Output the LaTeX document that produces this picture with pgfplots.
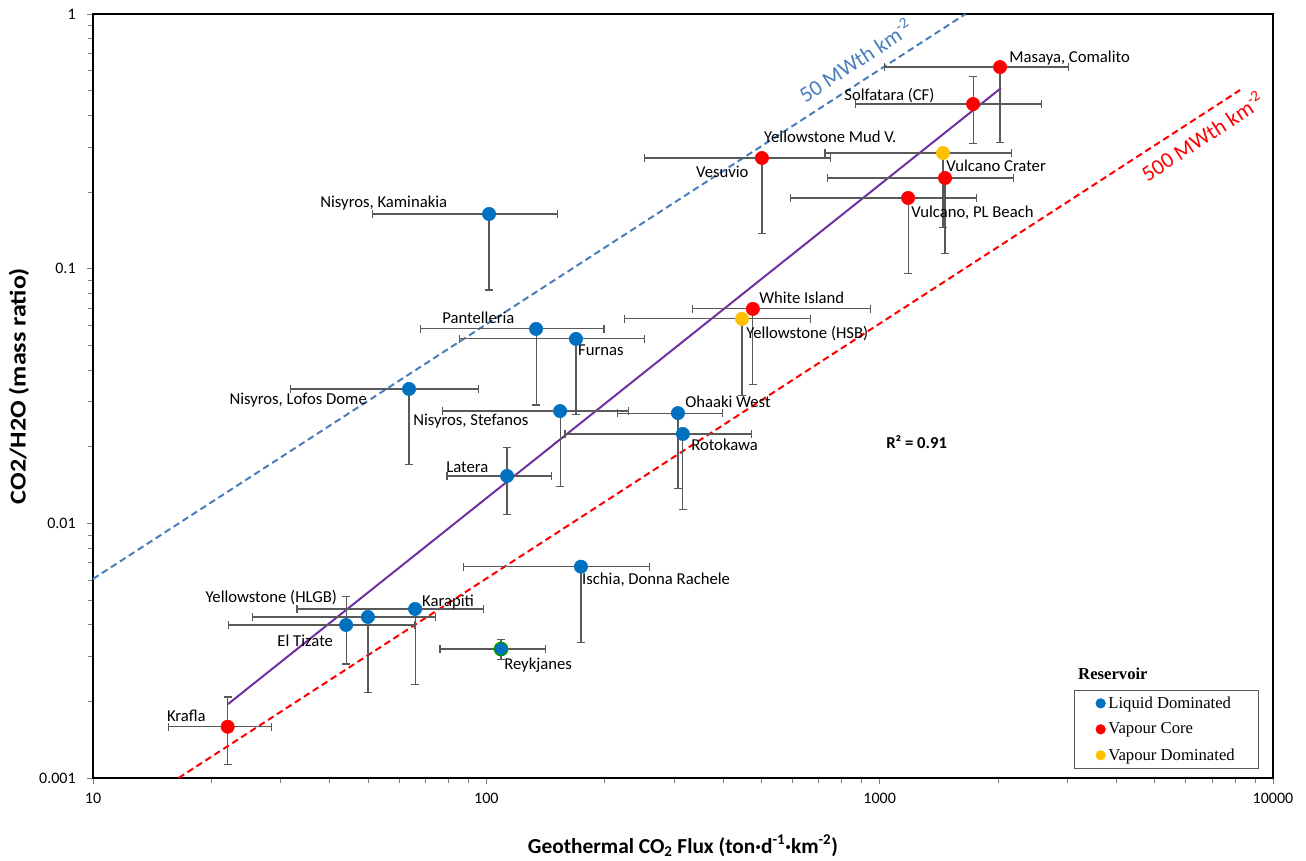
\documentclass[border=0pt]{standalone}
\usepackage{graphicx}
\usepackage{pgfplots}
\pgfplotsset{compat=1.18}
\usepackage{pgfplotstable}
\usetikzlibrary{arrows.meta}
\usepackage{fontspec}
\setmainfont{Carlito}
\newfontfamily\legfont{Liberation Serif}
\definecolor{liq}{HTML}{0070C0}
\definecolor{vcore}{HTML}{FF0000}
\definecolor{vdom}{HTML}{FFC000}
\definecolor{fitp}{HTML}{7030A0}
\definecolor{mwblue}{HTML}{4A7EBB}
\definecolor{ebar}{HTML}{595959}

% x y x+err x-err y+err y-err
\pgfplotstableread{
x y exp exm eyp eym
101.6 0.164 50.5 50.5 0 0.082
133.8 0.058 66 66 0 0.029
169 0.053 84 84 0 0.0264
63.6 0.0337 32 32 0 0.0167
154 0.0276 77 77 0 0.0137
307 0.0271 92 92 0 0.0135
316 0.02244 158 158 0 0.0112
112.9 0.01535 33.7 33.7 0.0046 0.0046
174 0.00676 87 87 0 0.00336
65.9 0.00461 33 33 0 0.00229
50.0 0.00429 24.7 24.7 0 0.00213
44 0.00399 22 22 0.0012 0.0012
}\liquid
\pgfplotstableread{
x y exp exm eyp eym
109 0.00321 33 33 0.0003 0.0003
}\reyk
\pgfplotstableread{
x y exp exm eyp eym
2023 0.619 1000 1000 0 0.308
1728 0.443 865 865 0.13 0.134
1466 0.227 730 730 0 0.113
1181 0.1895 590 590 0 0.094
502 0.272 250 250 0 0.135
476 0.0695 475 143 0 0.0346
22.0 0.00159 6.5 6.5 0.0005 0.00047
}\vcoretab
\pgfplotstableread{
x y exp exm eyp eym
1449 0.2846 725 725 0 0.14
446.7 0.0635 223 223 0 0.032
}\vdomtab

\pgfplotsset{
  ebars/.style={forget plot, only marks, mark=*, mark size=0pt,
    mark options={draw=none, fill=none},
    error bars/.cd, x dir=both, x explicit, y dir=both, y explicit,
    error mark=none,
    error bar style={ebar, line width=0.85pt, {Bar[width=6pt]}-{Bar[width=6pt]}}},
}
\tikzset{
  lab/.style={anchor=west, inner sep=0pt, font=\fontsize{12.5}{15}\selectfont, text height=8pt, text depth=0pt},
}

\begin{document}
\begin{tikzpicture}
\begin{axis}[
  name=ax, scale only axis, width=885pt, height=573pt,
  xmode=log, ymode=log, xmin=10, xmax=10000, ymin=0.001, ymax=1,
  clip=false,
  axis line style={line width=2pt, black},
  tick align=outside, xtick pos=bottom, ytick pos=left,
  major tick length=4.5pt, minor tick length=4pt,
  tick style={draw=gray, line width=0.5pt},
  xtick={10,100,1000,10000}, xticklabels={10,100,1000,10000},
  ytick={0.001,0.01,0.1,1}, yticklabels={0.001,0.01,0.1,1},
  ticklabel style={font=\fontsize{12}{14}\selectfont},
  xticklabel style={yshift=-3pt},
  yticklabel style={xshift=-5pt},
  xlabel={Geothermal CO\textsubscript{2} Flux (ton·d\textsuperscript{-1}·km\textsuperscript{-2})},
  ylabel={\scalebox{1.15}[1]{CO2/H2O (mass ratio)}},
  xlabel style={at={(axis description cs:0.5,-0.089)}, anchor=center, font=\bfseries\fontsize{16}{19}\selectfont},
  ylabel style={at={(axis description cs:-0.0627,0.513)}, anchor=center, font=\bfseries\fontsize{17}{20}\selectfont},
  legend style={at={(1,0)}, anchor=south east, xshift=-10.5pt, yshift=6.75pt, draw=ebar, font=\legfont\fontsize{12.5}{15}\selectfont, inner xsep=16pt, inner ysep=3pt, row sep=5.5pt},
  legend cell align=left,
  legend image code/.code={\fill (0pt,0pt) circle (3.6pt);},
]
% reference lines
\addplot[forget plot, mwblue, line width=1.5pt, dash pattern=on 5pt off 3pt] coordinates {(10,0.00605) (1653,1)};
\addplot[forget plot, vcore, line width=1.5pt, dash pattern=on 5pt off 3pt] coordinates {(16.5,0.001) (8250,0.503)};
\addplot[forget plot, fitp, line width=1.5pt] coordinates {(22.03,0.00195) (2035,0.512)};
% error bars
\addplot[ebars] table[x=x, y=y, x error plus=exp, x error minus=exm, y error plus=eyp, y error minus=eym]{\liquid};
\addplot[ebars] table[x=x, y=y, x error plus=exp, x error minus=exm, y error plus=eyp, y error minus=eym]{\reyk};
\addplot[ebars] table[x=x, y=y, x error plus=exp, x error minus=exm, y error plus=eyp, y error minus=eym]{\vcoretab};
\addplot[ebars] table[x=x, y=y, x error plus=exp, x error minus=exm, y error plus=eyp, y error minus=eym]{\vdomtab};
% markers
\addplot[only marks, mark=*, color=liq, mark size=5pt] table[x=x, y=y]{\liquid};
\addlegendentry{Liquid Dominated}
\addplot[only marks, mark=*, color=vcore, mark size=5pt] table[x=x, y=y]{\vcoretab};
\addlegendentry{Vapour Core}
\addplot[only marks, mark=*, color=vdom, mark size=5pt] table[x=x, y=y]{\vdomtab};
\addlegendentry{Vapour Dominated}
\addplot[forget plot, only marks, mark=*, mark size=5pt, mark options={fill=liq, draw=green!60!black, line width=1pt}] table[x=x, y=y]{\reyk};

% data labels
\node[lab] at (axis cs:2133,0.678) {Masaya, Comalito};
\node[lab] at (axis cs:812,0.481) {Solfatara (CF)};
\node[lab] at (axis cs:508,0.329) {Yellowstone Mud V.};
\node[lab] at (axis cs:341,0.2397) {Vesuvio};
\node[lab] at (axis cs:1475,0.253) {Vulcano Crater};
\node[lab] at (axis cs:1202,0.167) {Vulcano, PL Beach};
\node[lab] at (axis cs:37.8,0.1827) {Nisyros, Kaminakia};
\node[lab] at (axis cs:493.6,0.0767) {White Island};
\node[lab] at (axis cs:457.5,0.0559) {Yellowstone (HSB)};
\node[lab] at (axis cs:77.2,0.064) {Pantelleria};
\node[lab] at (axis cs:171,0.048) {Furnas};
\node[lab] at (axis cs:22.2,0.0308) {Nisyros, Lofos Dome};
\node[lab] at (axis cs:65.1,0.02547) {Nisyros, Stefanos};
\node[lab] at (axis cs:320,0.02997) {Ohaaki West};
\node[lab] at (axis cs:331.5,0.0203) {Rotokawa};
\node[lab] at (axis cs:79,0.01665) {Latera};
\node[lab, font=\bfseries\fontsize{12.5}{15}\selectfont] at (axis cs:1038,0.0207) {R² = 0.91};
\node[lab] at (axis cs:175,0.00605) {Ischia, Donna Rachele};
\node[lab] at (axis cs:19.3,0.00514) {Yellowstone (HLGB)};
\node[lab] at (axis cs:68.6,0.00496) {Karapiti};
\node[lab] at (axis cs:29.4,0.003453) {El Tizate};
\node[lab] at (axis cs:110.9,0.002805) {Reykjanes};
\node[lab] at (axis cs:15.4,0.001753) {Krafla};
% line labels
\node[rotate=33, text=mwblue, inner sep=0pt, font=\fontsize{16.5}{20}\selectfont] at (axis cs:866,0.66) {50 MWth km\textsuperscript{-2}};
\node[rotate=33, text=vcore, inner sep=0pt, font=\fontsize{16.5}{20}\selectfont] at (axis cs:6603,0.332) {500 MWth km\textsuperscript{-2}};
% legend title
\node[anchor=west, inner sep=0pt, font=\legfont\bfseries\fontsize{12.5}{15}\selectfont] at (rel axis cs:0.8347,0.1361) {Reservoir};
\end{axis}
\pgfresetboundingbox
\path[use as bounding box] ([shift={(-69.75pt,-61.5pt)}]ax.south west) rectangle ([shift={(24.75pt,10.5pt)}]ax.north east);
\end{tikzpicture}
\end{document}
